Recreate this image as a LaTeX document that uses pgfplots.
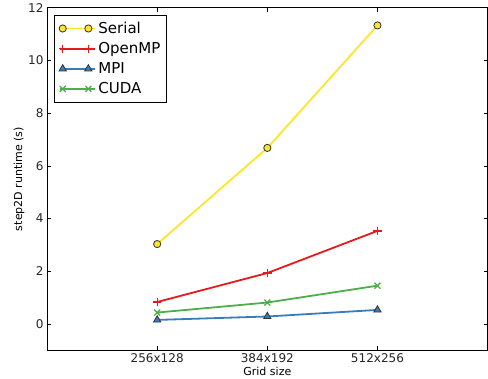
\documentclass[border=0pt]{standalone}
\usepackage{pgfplots}
\pgfplotsset{compat=1.18}
\usepackage{fontspec}
\setmainfont{DejaVu Sans}
\definecolor{cser}{RGB}{250,232,40}
\definecolor{comp}{RGB}{228,26,28}
\definecolor{cmpi}{RGB}{55,126,184}
\definecolor{ccuda}{RGB}{77,175,74}
\begin{document}
\begin{tikzpicture}
\begin{axis}[
  scale only axis,
  width=440pt, height=342pt,
  xmin=-1, xmax=3, ymin=-1, ymax=12,
  xtick={0,1,2}, xticklabels={256x128,384x192,512x256},
  ytick={0,2,4,6,8,10,12},
  tick align=inside,
  major tick length=4pt,
  tick style={black, line width=0.6pt},
  axis line style={black, line width=0.8pt},
  /pgf/number format/assume math mode=true,
  tick label style={font=\fontsize{12}{14}\selectfont, text=black!85},
  label style={font=\fontsize{11}{13}\selectfont},
  xlabel={Grid size},
  ylabel={step2D runtime (s)},
  xlabel style={yshift=3pt},
  ylabel style={yshift=-3pt},
  legend style={font=\fontsize{15}{17}\selectfont, draw=black, line width=0.8pt, at={(0.016,0.98)}, anchor=north west, inner xsep=4pt, inner ysep=5pt, row sep=3.5pt, cells={anchor=west}},
  legend image code/.code={
    \path (0cm,0cm) -- (1.25cm,0cm);
    \draw[line width=1.8pt] plot coordinates {(0.1cm,0cm) (1.0cm,0cm)};
  },
]
\addplot[cser, line width=1.8pt, mark=*, mark size=3.6pt, mark options={fill=cser, draw=black!80, line width=0.8pt}] coordinates {(0,3.03) (1,6.68) (2,11.33)};
\addlegendentry{Serial}
\addplot[comp, line width=1.8pt, mark=+, mark size=4.2pt, mark options={line width=1.3pt}] coordinates {(0,0.83) (1,1.93) (2,3.53)};
\addlegendentry{OpenMP}
\addplot[cmpi, line width=1.8pt, mark=triangle*, mark size=4.2pt, mark options={fill=cmpi, draw=black!80, line width=0.8pt}] coordinates {(0,0.15) (1,0.28) (2,0.53)};
\addlegendentry{MPI}
\addplot[ccuda, line width=1.8pt, mark=x, mark size=4.2pt, mark options={line width=1.3pt}] coordinates {(0,0.43) (1,0.81) (2,1.45)};
\addlegendentry{CUDA}
\end{axis}
\path (current axis.south west) ++(-47pt,0pt);
\end{tikzpicture}
\end{document}
